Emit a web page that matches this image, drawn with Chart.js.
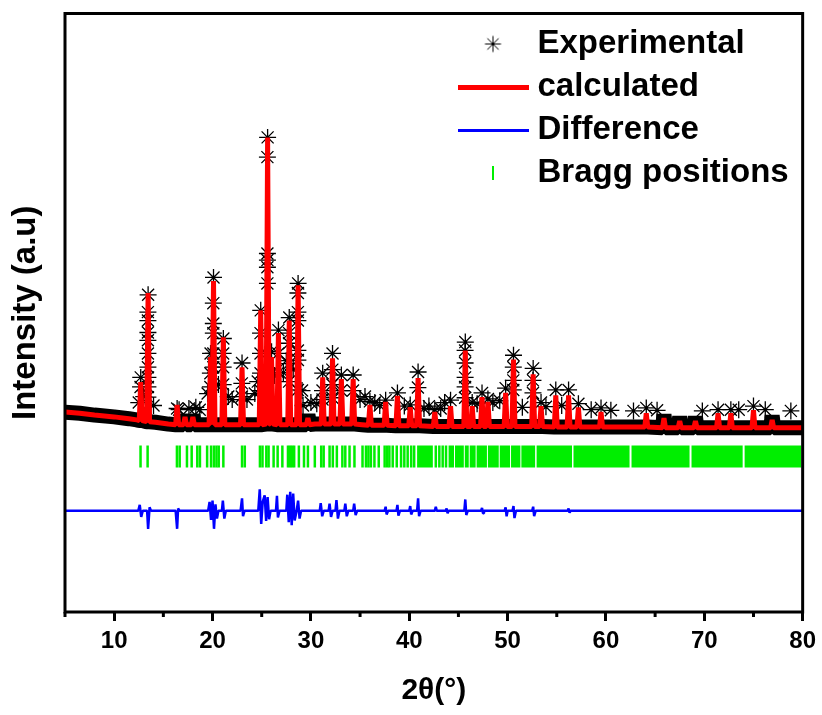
<!DOCTYPE html>
<html lang="en">
  <head>
    <meta charset="UTF-8" />
    <title>Rietveld refinement</title>
    <script src="https://cdn.jsdelivr.net/npm/chart.js@4.4.0/dist/chart.umd.min.js"></script>
    <style>
      html, body { margin: 0; padding: 0; background: #fff; }
      .chart-box { position: relative; width: 822px; height: 715px; }
    </style>
  </head>
  <body>
    <div class="chart-box">
      <canvas id="xrdChart" width="822" height="715"></canvas>
    </div>
    <script>
      // x axis ticks
      const majorTicks = [10, 20, 30, 40, 50, 60, 70, 80];
      const minorTicks = [5, 15, 25, 35, 45, 55, 65, 75];

      // background level (same for obs and calc)
      const bgPos = [5, 6.5, 8, 10, 11.5, 12.3, 14.2, 15.5, 16.9, 18.6, 19.3, 22.2, 24.2, 29.2, 30.4, 35.2, 36.8, 39.5, 43.4, 48.9, 51.6, 55.6, 58.3, 61.5, 63, 66.7, 68.3, 70.3, 73.8, 76.0, 78.5, 80];
      const bgLevel = [33.4, 33.2, 32.9, 32.6, 32.3, 32.1, 31.7, 31.4, 31.3, 31.3, 31.3, 31.3, 31.3, 31.3, 31.4, 31.3, 31.2, 31.1, 31.0, 31.0, 31.0, 30.9, 30.9, 30.9, 30.9, 30.8, 30.8, 30.8, 30.8, 30.8, 30.8, 30.8];

      // reflections: position, calculated top, observed top, foot level
      const peakPos = [12.7, 13.45, 16.4, 17.2, 18.0, 19.8, 20.1, 21.1, 23.0, 24.9, 25.6, 26.0, 26.7, 27.8, 28.7, 29.7, 31.2, 32.2, 33.1, 34.3, 36.0, 37.6, 38.8, 40.1, 40.9, 42.6, 44.2, 45.7, 46.4, 47.4, 48.0, 49.8, 50.6, 52.6, 53.4, 54.9, 56.2, 57.2, 59.5, 64.1, 65.9, 67.5, 69.1, 71.4, 72.7, 75.0, 76.9];
      const calcTop = [38.4, 53.3, 34.6, 32.6, 32.6, 42.6, 55.3, 45.9, 40.9, 50.4, 79.3, 42.6, 46.6, 48.7, 54.6, 32.4, 39.2, 42.4, 38.9, 38.9, 34.6, 35.1, 36.1, 34.2, 39.1, 33.4, 34.4, 43.7, 34.4, 35.9, 35.1, 36.6, 42.2, 39.7, 34.4, 36.2, 36.2, 34.2, 33.4, 33.2, 32.4, 31.9, 31.9, 33.2, 33.2, 33.7, 32.1];
      const obsTop = [39.2, 53.0, 34.0, 33.0, 33.0, 43.2, 55.9, 45.7, 41.6, 50.4, 79.3, 43.5, 47.1, 49.2, 54.9, 33.0, 39.9, 43.2, 39.6, 39.6, 35.2, 35.4, 36.6, 34.6, 40.1, 33.8, 35.4, 45.1, 35.0, 36.6, 35.6, 37.4, 42.9, 40.7, 35.0, 37.1, 37.1, 34.8, 34.1, 34.1, 33.0, 32.6, 32.6, 33.8, 33.8, 34.4, 32.8];
      const peakFoot = [32.0, 31.8, 31.3, 31.3, 31.3, 31.3, 31.3, 31.3, 31.3, 31.3, 31.4, 31.4, 31.3, 31.3, 31.3, 31.3, 31.4, 31.4, 31.4, 31.4, 31.2, 31.2, 31.1, 31.1, 31.1, 31.0, 31.0, 31.0, 31.0, 31.0, 31.0, 31.0, 31.0, 31.0, 31.0, 30.9, 30.9, 30.9, 30.9, 30.9, 30.8, 30.8, 30.8, 30.8, 30.8, 30.8, 30.8];

      // observed points on the flanks of the strong peaks
      const flankStars = [
        [12.68, 37.6],
        [13.43, 35.9], [13.43, 37.6], [13.43, 39.2], [13.43, 40.9], [13.43, 43.2], [13.43, 45.4], [13.43, 46.7], [13.43, 48.7], [13.43, 50.1],
        [19.78, 37.6], [19.78, 39.9],
        [20.08, 40.9], [20.08, 43.2], [20.08, 46.6], [20.08, 48.2], [20.08, 51.6],
        [21.08, 38.0], [21.08, 40.9], [21.08, 43.2],
        [22.98, 36.0], [22.98, 38.2],
        [24.88, 37.0], [24.88, 39.9], [24.88, 43.2], [24.88, 46.6],
        [25.58, 54.9], [25.58, 57.6], [25.58, 58.8], [25.58, 59.9], [25.58, 76.0],
        [25.98, 40.0],
        [26.68, 40.0], [26.68, 43.2],
        [27.78, 38.5], [27.78, 41.5], [27.78, 44.9], [27.78, 46.6],
        [28.68, 37.1], [28.68, 42.1], [28.68, 43.7], [28.68, 48.7], [28.68, 50.1], [28.68, 53.3],
        [31.18, 35.5], [31.18, 37.0],
        [32.18, 35.8], [32.18, 38.0], [32.18, 40.5],
        [33.08, 37.0], [34.28, 37.0], [40.88, 37.5],
        [45.68, 35.8], [45.68, 37.6], [45.68, 39.2], [45.68, 41.6], [45.68, 43.7],
        [50.58, 37.1], [50.58, 38.7], [50.58, 40.9],
        [52.58, 36.6], [52.58, 38.7]
      ];

      // scattered observed points sticking out of the background band
      const noiseStars = [
        [12.5, 35.0], [13.0, 36.0], [14.0, 34.5], [16.6, 33.8], [17.6, 34.0], [18.3, 34.2], [18.7, 33.8],
        [19.5, 36.5], [20.6, 38.0], [21.6, 36.0], [22.0, 35.5], [23.5, 35.5], [24.3, 36.5], [24.6, 38.5],
        [26.3, 39.5], [27.2, 40.0], [27.5, 42.0], [28.2, 40.5], [29.1, 37.0], [29.2, 34.5], [30.0, 35.0],
        [30.6, 34.8], [35.0, 35.5], [35.5, 36.0], [36.5, 35.0], [37.0, 34.5], [39.5, 34.4], [41.5, 34.0],
        [42.0, 34.4], [43.2, 34.0], [43.6, 35.0], [46.9, 34.8], [48.5, 35.0], [49.2, 35.3], [51.5, 34.2],
        [53.9, 34.3], [55.5, 34.5], [58.5, 33.8], [60.5, 33.7], [62.8, 33.6], [65.2, 33.7], [69.8, 33.6],
        [73.5, 33.8], [76.2, 33.8], [78.8, 33.6]
      ];

      // difference curve (obs - calc, shifted)
      const diffCurve = [
        [5, 16.9], [12.45, 16.9], [12.6, 17.9], [12.75, 15.9], [12.9, 16.9],
        [13.35, 16.9], [13.45, 13.9], [13.6, 17.5], [13.75, 16.9],
        [16.25, 16.9], [16.4, 13.9], [16.5, 17.3], [16.65, 16.9],
        [19.55, 16.9], [19.7, 18.4], [19.85, 15.4], [20.0, 18.6], [20.15, 13.9], [20.3, 18.0], [20.45, 15.6], [20.6, 16.9],
        [20.95, 16.9], [21.05, 18.6], [21.2, 15.6], [21.35, 16.9],
        [22.85, 16.9], [23.0, 19.0], [23.1, 16.0], [23.25, 16.9],
        [24.65, 16.9], [24.8, 20.5], [24.95, 14.7], [25.1, 18.4], [25.3, 19.5], [25.45, 15.2], [25.6, 19.2], [25.75, 15.5], [25.9, 16.9],
        [26.45, 16.9], [26.55, 19.4], [26.65, 15.8], [26.8, 16.9],
        [27.5, 16.9], [27.6, 19.6], [27.75, 15.0], [27.9, 20.1], [28.05, 14.5], [28.2, 19.8], [28.35, 15.3], [28.55, 16.9],
        [28.7, 18.6], [28.85, 15.6], [29.0, 16.9],
        [30.9, 16.9], [31.0, 18.2], [31.15, 16.0], [31.3, 16.9],
        [31.8, 16.9], [31.9, 18.1], [32.05, 15.9], [32.2, 16.9],
        [32.5, 16.9], [32.6, 18.7], [32.75, 15.6], [32.9, 16.9],
        [33.4, 16.9], [33.5, 18.1], [33.65, 16.0], [33.8, 16.9],
        [34.3, 16.9], [34.4, 18.1], [34.55, 16.2], [34.7, 16.9],
        [37.5, 16.9], [37.6, 17.6], [37.7, 16.3], [37.85, 16.9],
        [38.7, 16.9], [38.8, 17.9], [38.9, 16.1], [39.05, 16.9],
        [40.0, 16.9], [40.1, 17.7], [40.2, 16.3], [40.35, 16.9],
        [40.8, 16.9], [40.9, 19.0], [41.0, 16.0], [41.15, 16.9],
        [42.6, 16.9], [42.7, 17.6], [42.8, 16.9],
        [43.7, 16.9], [43.8, 17.3], [43.9, 16.5], [44.0, 16.9],
        [45.6, 16.9], [45.7, 18.8], [45.8, 16.2], [45.95, 16.9],
        [47.3, 16.9], [47.4, 17.4], [47.5, 16.5], [47.6, 16.9],
        [49.7, 16.9], [49.8, 17.5], [49.9, 16.0], [50.0, 16.9],
        [50.5, 16.9], [50.6, 17.7], [50.7, 15.7], [50.85, 16.9],
        [52.5, 16.9], [52.6, 17.6], [52.7, 16.0], [52.85, 16.9],
        [56.1, 16.9], [56.2, 17.3], [56.3, 16.6], [56.4, 16.9],
        [80, 16.9]
      ];

      // Bragg positions: single ticks, and ranges where ticks merge into a block
      const braggLevel = 26.0;
      const braggPos = [12.68, 13.4, 16.38, 16.66, 17.4, 17.88, 18.45, 18.72, 19.45, 19.85, 20.14, 20.4, 20.63, 21.1, 23.0, 23.28, 24.82, 25.08, 25.47, 25.7, 26.21, 26.62, 27.1, 27.67, 27.88, 28.08, 28.3, 28.78, 29.3, 29.7, 30.4, 31.05, 31.3, 31.9, 32.23, 32.64, 33.2, 33.5, 33.93, 34.43, 35.25, 35.6, 35.85, 36.1, 36.46, 36.9, 37.5, 37.75, 37.98, 38.32, 38.73, 39.17, 39.5, 39.84, 40.2, 40.5, 42.7, 43.06, 43.4, 43.74];
      const braggRuns = [[40.8, 42.4], [44.0, 44.55], [44.65, 45.55], [45.65, 46.05], [46.15, 46.75], [46.85, 47.9], [48.0, 49.1], [49.2, 50.25], [50.35, 51.3], [51.4, 52.8], [52.95, 56.55], [56.7, 62.4], [62.6, 68.5], [68.7, 73.9], [74.1, 79.85]];

      const STAR_CUT = 33.5;

      function profile(tops, extra) {
        const pts = bgPos.map((x, i) => ({ x: x, y: bgLevel[i] }));
        peakPos.forEach((x, i) => {
          pts.push({ x: x - 0.15, y: peakFoot[i] });
          pts.push({ x: x, y: tops[i] });
          pts.push({ x: x + 0.15, y: peakFoot[i] });
        });
        extra.forEach((p) => pts.push({ x: p[0], y: p[1] }));
        return pts.sort((a, b) => a.x - b.x);
      }

      const obsPoints = profile(obsTop, flankStars.concat(noiseStars));
      const obsBand = obsPoints.filter((p) => p.y < STAR_CUT);
      const obsStars = obsPoints.filter((p) => p.y >= STAR_CUT);

      const runPoints = [];
      braggRuns.forEach((r) => {
        runPoints.push({ x: r[0], y: braggLevel }, { x: r[1], y: braggLevel }, { x: r[1], y: null });
      });

      // legend markers
      function mark(w, h, draw) {
        const c = document.createElement("canvas");
        c.width = w;
        c.height = h;
        draw(c.getContext("2d"));
        return c;
      }
      const starMark = mark(19, 19, (g) => {
        g.strokeStyle = "#000";
        g.lineWidth = 1;
        g.beginPath();
        for (let k = 0; k < 4; k++) {
          const a = (k * Math.PI) / 4;
          g.moveTo(9.5 - 8 * Math.cos(a), 9.5 - 8 * Math.sin(a));
          g.lineTo(9.5 + 8 * Math.cos(a), 9.5 + 8 * Math.sin(a));
        }
        g.stroke();
      });
      const redMark = mark(71, 5, (g) => { g.fillStyle = "#ff0000"; g.fillRect(0, 0, 71, 5); });
      const blueMark = mark(71, 3, (g) => { g.fillStyle = "#0000ff"; g.fillRect(0, 0, 71, 3); });
      const greenMark = mark(2, 14, (g) => { g.fillStyle = "#00ee00"; g.fillRect(0, 0, 2, 14); });
      const legendMarks = [redMark, blueMark, greenMark, null, starMark, null];
      const legendRank = [1, 2, 3, 9, 0, 9];

      const framePlugin = {
        id: "frame",
        afterLayout(chart) {
          const lg = chart.legend;
          const h = lg.height;
          lg.left = 455;
          lg.top = 17.5;
          lg.right = lg.left + lg.width;
          lg.bottom = lg.top + h;
        },
        afterDraw(chart) {
          const { ctx, chartArea: a } = chart;
          const x = chart.scales.x;
          ctx.save();
          ctx.strokeStyle = "#000";
          ctx.lineWidth = 3;
          ctx.strokeRect(a.left, a.top, a.right - a.left, a.bottom - a.top);
          minorTicks.forEach((v) => {
            const px = x.getPixelForValue(v);
            ctx.beginPath();
            ctx.moveTo(px, a.bottom);
            ctx.lineTo(px, a.bottom + 5);
            ctx.stroke();
          });
          ctx.restore();
        },
      };

      Chart.defaults.font.family = "'Liberation Sans', Arial, sans-serif";
      Chart.defaults.color = "#000";

      new Chart(document.getElementById("xrdChart"), {
        type: "line",
        data: {
          datasets: [
            {
              label: "calculated",
              data: profile(calcTop, []),
              borderColor: "#ff0000",
              borderWidth: 5,
              borderJoinStyle: "bevel",
              pointRadius: 0,
              tension: 0,
            },
            {
              label: "Difference",
              data: diffCurve.map((p) => ({ x: p[0], y: p[1] })),
              borderColor: "#0000ff",
              borderWidth: 2.5,
              borderJoinStyle: "bevel",
              pointRadius: 0,
              tension: 0,
            },
            {
              label: "Bragg positions",
              data: braggPos.map((x) => ({ x: x, y: braggLevel })),
              showLine: false,
              pointStyle: "line",
              rotation: 90,
              pointRadius: 11,
              pointBorderWidth: 2.5,
              pointBorderColor: "#00ee00",
              borderColor: "#00ee00",
            },
            {
              label: "bragg-runs",
              data: runPoints,
              borderColor: "#00ee00",
              borderWidth: 22,
              borderCapStyle: "butt",
              pointRadius: 0,
              spanGaps: false,
            },
            {
              label: "Experimental",
              data: obsStars,
              showLine: false,
              pointStyle: "star",
              pointRadius: 8.5,
              pointBorderWidth: 1.3,
              pointBorderColor: "#000",
              pointBackgroundColor: "rgba(0,0,0,0)",
              borderColor: "#000",
            },
            {
              label: "obs-band",
              data: obsBand,
              borderColor: "#000",
              borderJoinStyle: "bevel",
              borderWidth: 15,
              pointRadius: 0,
              tension: 0,
            },
          ],
        },
        options: {
          animation: false,
          responsive: false,
          events: [],
          layout: { padding: { top: 13, right: 19, bottom: 0, left: 0 } },
          scales: {
            x: {
              type: "linear",
              min: 5,
              max: 80,
              afterBuildTicks: (s) => {
                s.ticks = majorTicks.map((v) => ({ value: v }));
              },
              afterFit: (s) => {
                s.height = 103;
              },
              ticks: { font: { size: 24, weight: "bold" }, padding: 6, maxRotation: 0, autoSkip: false },
              grid: { drawOnChartArea: false, drawTicks: true, tickLength: 9, tickWidth: 3, tickColor: "#000" },
              border: { display: false },
              title: { display: true, text: "2θ(°)", font: { size: 30, weight: "bold" }, padding: { top: 0, bottom: 6 } },
            },
            y: {
              min: 0,
              max: 100,
              afterFit: (s) => {
                s.width = 65;
              },
              ticks: { display: false },
              grid: { display: false },
              border: { display: false },
              title: { display: true, text: "Intensity (a.u)", font: { size: 33, weight: "bold" }, padding: { top: 6, bottom: 0 } },
            },
          },
          plugins: {
            tooltip: { enabled: false },
            legend: {
              position: "chartArea",
              align: "start",
              labels: {
                usePointStyle: true,
                pointStyleWidth: 56,
                boxHeight: 33,
                padding: 10,
                color: "#000",
                font: { size: 33, weight: "bold" },
                generateLabels: (chart) => {
                  const items = Chart.defaults.plugins.legend.labels.generateLabels(chart);
                  items.forEach((it) => {
                    it.pointStyle = legendMarks[it.datasetIndex];
                    it.rotation = 0;
                  });
                  return items;
                },
                filter: (it) => legendMarks[it.datasetIndex] !== null,
                sort: (a, b) => legendRank[a.datasetIndex] - legendRank[b.datasetIndex],
              },
            },
          },
        },
        plugins: [framePlugin],
      });
    </script>
  </body>
</html>
